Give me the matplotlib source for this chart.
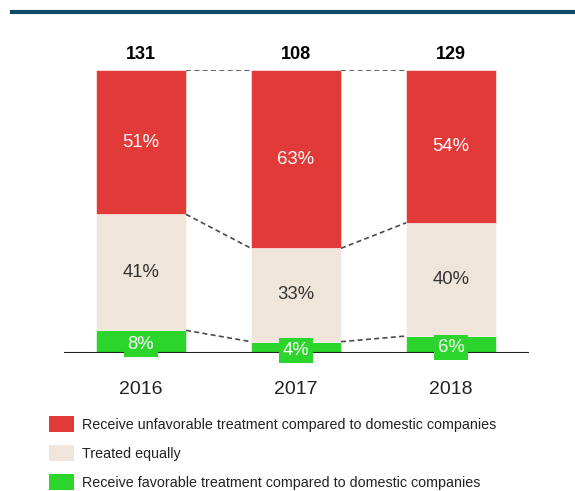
import numpy as np
import matplotlib.pyplot as plt
from matplotlib.patches import Patch

plt.rcParams['font.family'] = ['Liberation Sans', 'DejaVu Sans']

years = ['2016', '2017', '2018']
totals = [131, 108, 129]
favorable = [8, 4, 6]
equal = [41, 33, 40]
unfavorable = [51, 63, 54]

series_names = ['Receive unfavorable treatment compared to domestic companies',
                'Treated equally',
                'Receive favorable treatment compared to domestic companies']

RED = '#e23939'
BEIGE = '#efe5da'
GREEN = '#2bd52b'

fig = plt.figure(figsize=(5.75, 4.91), dpi=100)
ax = fig.add_axes([63.5/575, 1-353/491, 465/575, 283/491])

x = np.arange(len(years))
w = 90/155
fav = np.array(favorable)
eq = np.array(equal)
unf = np.array(unfavorable)

ax.bar(x, fav, w, color=GREEN, edgecolor='white', linewidth=0.4)
ax.bar(x, eq, w, bottom=fav, color=BEIGE, edgecolor='white', linewidth=0.4)
ax.bar(x, unf, w, bottom=fav+eq, color=RED, edgecolor='white', linewidth=0.4)

# connectors between segment boundaries
for lev in [fav, fav+eq, fav+eq+unf]:
    for i in range(len(x)-1):
        ax.plot([x[i]+w/2, x[i+1]-w/2], [lev[i], lev[i+1]], ls=(0, (3, 2)),
                color='#4a4a4a', lw=1.2, zorder=1)

for i in range(len(x)):
    ax.text(x[i], fav[i]/2 - 1, f'{favorable[i]}%', ha='center', va='center',
            color='white', fontsize=13.3, zorder=5,
            bbox=dict(boxstyle='square,pad=0.22', fc=GREEN, ec='none'))
    ax.text(x[i], fav[i] + eq[i]/2, f'{equal[i]}%', ha='center', va='center',
            color='#333333', fontsize=13.3)
    ax.text(x[i], fav[i] + eq[i] + unf[i]/2, f'{unfavorable[i]}%', ha='center',
            va='center', color='white', fontsize=13.3)
    ax.text(x[i], 105.5, str(totals[i]), ha='center', va='center',
            fontsize=13, fontweight='bold', color='black')

ax.set_xlim(-0.5, 2.5)
ax.set_ylim(0, 100)
ax.axhline(0, color='#222222', lw=1.5, zorder=3)
for s in ax.spines.values():
    s.set_visible(False)
ax.set_yticks([])
ax.set_xticks(x)
ax.set_xticklabels(years, fontsize=14, color='#222222')
ax.tick_params(axis='x', length=0, pad=20)

# header rule
fig.add_artist(plt.Line2D([12/575, 1], [1-12/491, 1-12/491], color='#0f4a68', lw=3))

handles = [Patch(fc=c, ec='none') for c in [RED, BEIGE, GREEN]]
fig.legend(handles, series_names, loc='upper left', bbox_to_anchor=(36/575, 1-403/491),
           frameon=False, fontsize=10.3, handlelength=1.75, handleheight=1.35,
           handletextpad=0.55, labelspacing=0.9, labelcolor='#222222')

plt.savefig('out.png', dpi=100)
